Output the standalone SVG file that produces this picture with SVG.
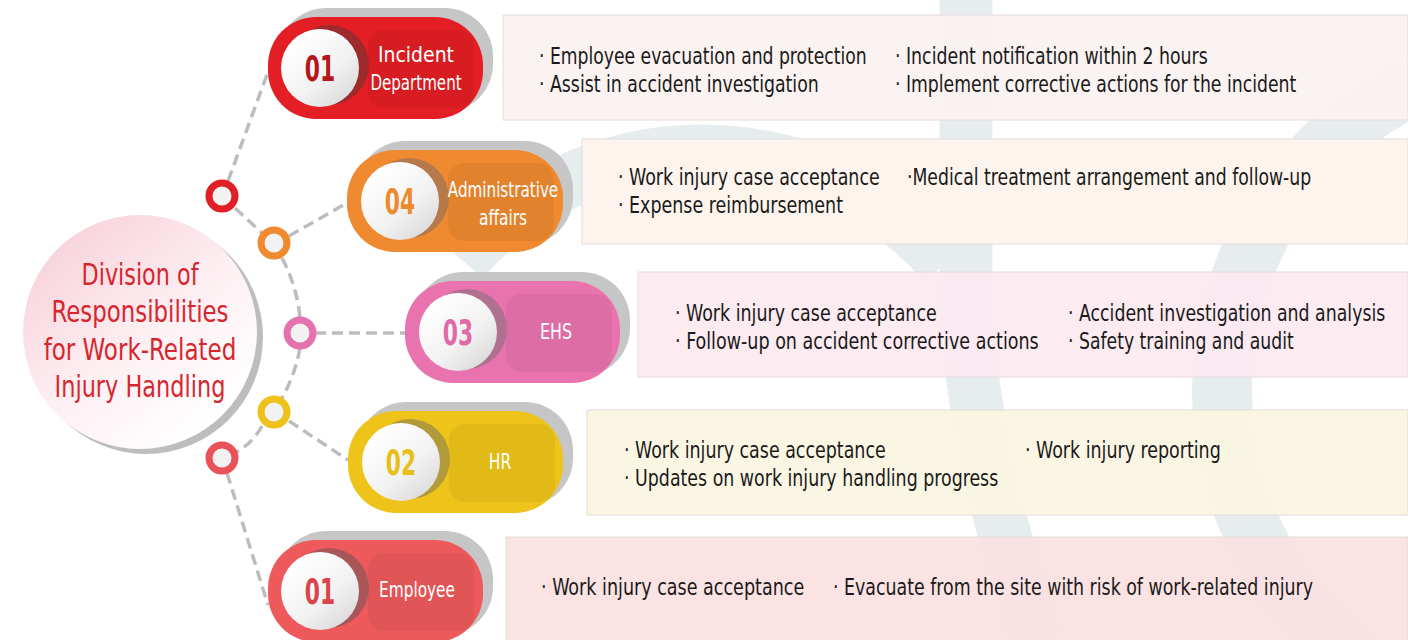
<svg xmlns="http://www.w3.org/2000/svg" width="1408" height="640" viewBox="0 0 1408 640">
<defs>
<style>
.wm{fill:none;stroke:#E7EDEF}
.box{stroke:#E4DCDC;stroke-width:1;fill-opacity:0.95}
.txt{font-family:"Liberation Sans Narrow","Arial Narrow","DejaVu Sans Condensed","Liberation Sans",sans-serif;font-size:22.5px;fill:#1a1a1a}
.lbl{font-family:"Liberation Sans Narrow","Arial Narrow","DejaVu Sans Condensed","Liberation Sans",sans-serif;font-size:21px;fill:#ffffff;text-anchor:middle}
.num{font-family:"Liberation Sans Narrow","Arial Narrow","DejaVu Sans Condensed","Liberation Sans",sans-serif;font-size:36px;font-weight:bold;text-anchor:middle}
.title{font-family:"Liberation Sans Narrow","Arial Narrow","DejaVu Sans Condensed","Liberation Sans",sans-serif;font-size:30px;fill:#D7262E;text-anchor:middle}
.shadow{fill:#C6C6C6}
.inner{fill:#000000;fill-opacity:0.05}
.dash{fill:none;stroke:#BDBDBD;stroke-width:3.5;stroke-dasharray:11 6}
.ring{fill:#F2F2F2;stroke-width:7}
</style>
<linearGradient id="wcirc" x1="0.2" y1="0.15" x2="0.85" y2="0.9">
<stop offset="0" stop-color="#FFFFFF"/>
<stop offset="0.6" stop-color="#F1F1F1"/>
<stop offset="1" stop-color="#DCDCDC"/>
</linearGradient>
<linearGradient id="mainG" x1="0.15" y1="0.1" x2="0.8" y2="0.9">
<stop offset="0" stop-color="#F8D3DC"/>
<stop offset="0.55" stop-color="#FDF0F3"/>
<stop offset="1" stop-color="#FFFFFF"/>
</linearGradient>
</defs>

<g id="watermark">
<path class="wm" d="M966 0 L966 300 Q972 430 1012 560 L1036 640" stroke-width="53"/>
<path class="wm" d="M462 260 A320 320 0 0 1 945 264" stroke-width="55"/>
<circle class="wm" cx="1560" cy="390" r="338" stroke-width="60"/>
</g>

<g id="box-incident">
<rect class="box" x="503" y="15" width="905" height="105" fill="#FBF2F0"/>
<text class="txt" transform="translate(539,64) scale(0.75,1)" textLength="437" lengthAdjust="spacingAndGlyphs">· Employee evacuation and protection</text>
<text class="txt" transform="translate(539,92) scale(0.75,1)" textLength="373" lengthAdjust="spacingAndGlyphs">· Assist in accident investigation</text>
<text class="txt" transform="translate(895,64) scale(0.75,1)" textLength="417" lengthAdjust="spacingAndGlyphs">· Incident notification within 2 hours</text>
<text class="txt" transform="translate(895,92) scale(0.75,1)" textLength="535" lengthAdjust="spacingAndGlyphs">· Implement corrective actions for the incident</text>
</g>
<g id="box-admin">
<rect class="box" x="582" y="139" width="826" height="105" fill="#FDF4EC"/>
<text class="txt" transform="translate(618,185) scale(0.75,1)" textLength="349" lengthAdjust="spacingAndGlyphs">· Work injury case acceptance</text>
<text class="txt" transform="translate(618,213) scale(0.75,1)" textLength="300" lengthAdjust="spacingAndGlyphs">· Expense reimbursement</text>
<text class="txt" transform="translate(907,185) scale(0.75,1)" textLength="539" lengthAdjust="spacingAndGlyphs">·Medical treatment arrangement and follow-up</text>
</g>
<g id="box-ehs">
<rect class="box" x="638" y="272" width="770" height="105" fill="#FCEAF0"/>
<text class="txt" transform="translate(675,321) scale(0.75,1)" textLength="349" lengthAdjust="spacingAndGlyphs">· Work injury case acceptance</text>
<text class="txt" transform="translate(675,349) scale(0.75,1)" textLength="485" lengthAdjust="spacingAndGlyphs">· Follow-up on accident corrective actions</text>
<text class="txt" transform="translate(1068,321) scale(0.75,1)" textLength="423" lengthAdjust="spacingAndGlyphs">· Accident investigation and analysis</text>
<text class="txt" transform="translate(1068,349) scale(0.75,1)" textLength="301" lengthAdjust="spacingAndGlyphs">· Safety training and audit</text>
</g>
<g id="box-hr">
<rect class="box" x="587" y="410" width="821" height="105" fill="#FAF6E1"/>
<text class="txt" transform="translate(624,458) scale(0.75,1)" textLength="349" lengthAdjust="spacingAndGlyphs">· Work injury case acceptance</text>
<text class="txt" transform="translate(624,486) scale(0.75,1)" textLength="499" lengthAdjust="spacingAndGlyphs">· Updates on work injury handling progress</text>
<text class="txt" transform="translate(1025,458) scale(0.75,1)" textLength="261" lengthAdjust="spacingAndGlyphs">· Work injury reporting</text>
</g>
<g id="box-employee">
<rect class="box" x="506" y="537" width="902" height="110" fill="#FBE0E2"/>
<text class="txt" transform="translate(541,595) scale(0.75,1)" textLength="351" lengthAdjust="spacingAndGlyphs">· Work injury case acceptance</text>
<text class="txt" transform="translate(833,595) scale(0.75,1)" textLength="640" lengthAdjust="spacingAndGlyphs">· Evacuate from the site with risk of work-related injury</text>
</g>

<g id="connectors">
<path class="dash" d="M228 181 L268 72"/>
<path class="dash" d="M235 208 L262 233"/>
<path class="dash" d="M289 236 L347 203"/>
<path class="dash" d="M282 258 A160 160 0 0 1 300 318"/>
<path class="dash" d="M315 333 L405 333"/>
<path class="dash" d="M300 348 A160 160 0 0 1 282 398"/>
<path class="dash" d="M289 421 L348 460"/>
<path class="dash" d="M262 426 Q252 444 236 452"/>
<path class="dash" d="M227 473 L268 605"/>
</g>

<g id="center">
<circle cx="146" cy="337" r="117" fill="#BDBDBD"/>
<circle cx="140" cy="332" r="117" fill="url(#mainG)"/>
<text class="title" transform="translate(140,285) scale(0.78,1)" textLength="150" lengthAdjust="spacingAndGlyphs">Division of</text>
<text class="title" transform="translate(140,322) scale(0.78,1)" textLength="227" lengthAdjust="spacingAndGlyphs">Responsibilities</text>
<text class="title" transform="translate(140,360) scale(0.78,1)" textLength="247" lengthAdjust="spacingAndGlyphs">for Work-Related</text>
<text class="title" transform="translate(140,397) scale(0.78,1)" textLength="219" lengthAdjust="spacingAndGlyphs">Injury Handling</text>
</g>

<g id="ring1"><circle class="ring" cx="222" cy="196" r="13" stroke="#E11F26"/></g>
<g id="ring2"><circle class="ring" cx="274" cy="243" r="13" stroke="#EF8A2F"/></g>
<g id="ring3"><circle class="ring" cx="300" cy="333" r="13" stroke="#E472AE"/></g>
<g id="ring4"><circle class="ring" cx="274" cy="412" r="13" stroke="#EEC21B"/></g>
<g id="ring5"><circle class="ring" cx="222" cy="458" r="13" stroke="#E85258"/></g>

<g id="pill-incident">
<rect class="shadow" x="278" y="8" width="215" height="104" rx="48"/>
<rect x="268" y="17" width="215" height="102" rx="48" fill="#E31E24"/>
<rect class="inner" x="368" y="30" width="106" height="78" rx="16"/>
<circle cx="329" cy="65" r="40" fill="#9E2A2B"/>
<circle cx="320" cy="68" r="39" fill="url(#wcirc)"/>
<text class="num" transform="translate(320,81) scale(0.8,1)" fill="#B5161C" textLength="38" lengthAdjust="spacingAndGlyphs">01</text>
<text class="lbl" transform="translate(416,62) scale(0.8,1)" textLength="95" lengthAdjust="spacingAndGlyphs">Incident</text>
<text class="lbl" transform="translate(416,90) scale(0.8,1)" textLength="114" lengthAdjust="spacingAndGlyphs">Department</text>
</g>
<g id="pill-admin">
<rect class="shadow" x="357" y="141" width="216" height="104" rx="48"/>
<rect x="347" y="150" width="216" height="102" rx="48" fill="#F08A30"/>
<rect class="inner" x="448" y="163" width="106" height="78" rx="16"/>
<circle cx="409" cy="198" r="40" fill="#B5794A"/>
<circle cx="400" cy="201" r="39" fill="url(#wcirc)"/>
<text class="num" transform="translate(400,214) scale(0.8,1)" fill="#EE8A2E" textLength="38" lengthAdjust="spacingAndGlyphs">04</text>
<text class="lbl" transform="translate(503,197) scale(0.8,1)" textLength="138" lengthAdjust="spacingAndGlyphs">Administrative</text>
<text class="lbl" transform="translate(503,225) scale(0.8,1)" textLength="60" lengthAdjust="spacingAndGlyphs">affairs</text>
</g>
<g id="pill-ehs">
<rect class="shadow" x="415" y="272" width="215" height="104" rx="48"/>
<rect x="405" y="281" width="215" height="102" rx="48" fill="#E873AE"/>
<rect class="inner" x="506" y="294" width="106" height="78" rx="16"/>
<circle cx="467" cy="329" r="40" fill="#B07090"/>
<circle cx="458" cy="332" r="39" fill="url(#wcirc)"/>
<text class="num" transform="translate(458,345) scale(0.8,1)" fill="#E06AA6" textLength="38" lengthAdjust="spacingAndGlyphs">03</text>
<text class="lbl" transform="translate(556,339) scale(0.8,1)" textLength="40" lengthAdjust="spacingAndGlyphs">EHS</text>
</g>
<g id="pill-hr">
<rect class="shadow" x="358" y="402" width="215" height="104" rx="48"/>
<rect x="348" y="411" width="215" height="102" rx="48" fill="#EEC41A"/>
<rect class="inner" x="449" y="424" width="106" height="78" rx="16"/>
<circle cx="410" cy="459" r="40" fill="#B29A3A"/>
<circle cx="401" cy="462" r="39" fill="url(#wcirc)"/>
<text class="num" transform="translate(401,475) scale(0.8,1)" fill="#E9BE18" textLength="38" lengthAdjust="spacingAndGlyphs">02</text>
<text class="lbl" transform="translate(500,469) scale(0.8,1)" textLength="28" lengthAdjust="spacingAndGlyphs">HR</text>
</g>
<g id="pill-employee">
<rect class="shadow" x="278" y="531" width="215" height="104" rx="48"/>
<rect x="268" y="540" width="215" height="102" rx="48" fill="#EE5A5C"/>
<rect class="inner" x="368" y="553" width="106" height="78" rx="16"/>
<circle cx="329" cy="588" r="40" fill="#A85657"/>
<circle cx="320" cy="591" r="39" fill="url(#wcirc)"/>
<text class="num" transform="translate(320,604) scale(0.8,1)" fill="#D9454A" textLength="38" lengthAdjust="spacingAndGlyphs">01</text>
<text class="lbl" transform="translate(417,597) scale(0.8,1)" textLength="95" lengthAdjust="spacingAndGlyphs">Employee</text>
</g>
</svg>
